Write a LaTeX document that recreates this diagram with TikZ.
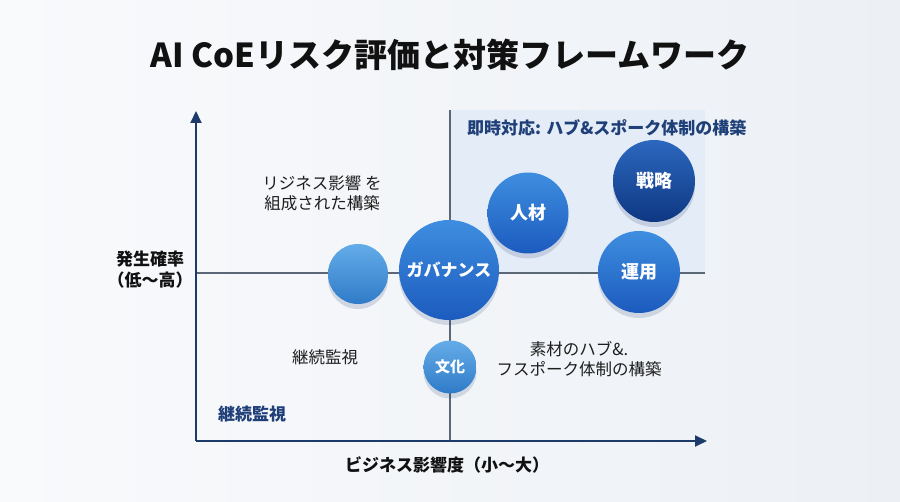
\documentclass[tikz,border=0pt]{standalone}
\usepackage{fontspec}
\setmainfont{Noto Sans CJK JP}
\usetikzlibrary{arrows.meta,shadows}
\definecolor{navy}{HTML}{1C3B6B}
\definecolor{qtext}{HTML}{1F3F78}
\definecolor{divgray}{HTML}{5B6677}
\definecolor{region}{HTML}{E4ECF7}
\definecolor{bgA}{HTML}{F9FAFC}
\definecolor{bgB}{HTML}{ECF0F5}
\definecolor{dA}{HTML}{2C68BE}
\definecolor{dB}{HTML}{0E3782}
\definecolor{mA}{HTML}{3E8EE0}
\definecolor{mB}{HTML}{1C5BBE}
\definecolor{lA}{HTML}{64ACE8}
\definecolor{lB}{HTML}{307BC8}
\definecolor{titlec}{HTML}{111111}
\definecolor{bodyc}{HTML}{1E1E1E}
\tikzset{
  bubble/.style={circle, inner sep=0pt, minimum size=#1, text=white,
    font=\fontsize{18}{20}\selectfont\bfseries, shading angle=45,
    drop shadow={shadow xshift=0pt, shadow yshift=-5pt, opacity=0.16, fill=navy}},
  dark/.style={top color=dA, bottom color=dB},
  mid/.style={top color=mA, bottom color=mB},
  light/.style={top color=lA, bottom color=lB},
  axisline/.style={draw=navy, line width=2pt, -{Triangle[length=12pt,width=11pt]}},
  divline/.style={draw=divgray, line width=1.4pt},
  bodytext/.style={text=bodyc, font=\fontsize{16.5}{20}\selectfont, align=center, inner sep=0pt},
  qlabel/.style={text=qtext, font=\fontsize{17}{20}\selectfont\bfseries, inner sep=0pt},
  axislabel/.style={text=titlec, font=\fontsize{17}{21}\selectfont\bfseries, align=center, inner sep=0pt}
}
\begin{document}
\begin{tikzpicture}[x=1pt,y=-1pt]
\useasboundingbox (0,0) rectangle (900,502);
\shade[left color=bgA, right color=bgB] (0,0) rectangle (900,502);
% title
\node[text=titlec, font=\fontsize{33}{38}\selectfont\bfseries, inner sep=0pt] (title) at (450,55) {AI CoEリスク評価と対策フレームワーク};
% coordinates
\coordinate (origin) at (196,441);
\coordinate (ytop) at (196,111);
\coordinate (xend) at (707,441);
\coordinate (vtop) at (450,110);
\coordinate (vbot) at (450,441);
\coordinate (hleft) at (196,273);
\coordinate (hright) at (705,273);
% shaded quadrant
\fill[region] (vtop) rectangle (hright);
% dividers
\draw[divline] (vtop) -- (vbot);
\draw[divline] (hleft) -- (hright);
% axes
\draw[axisline] (origin) -- (ytop);
\draw[axisline] (origin) -- (xend);
% labels
\node[qlabel, anchor=west] (qtr) at (467,128) {即時対応: ハブ\&スポーク体制の構築};
\node[bodytext] (qtl) at (322,193) {リジネス影響 を\\組成された構築};
\node[bodytext] (qbl) at (325,357) {継続監視};
\node[bodytext] (qbr) at (579,359) {素材のハブ\&.\\フスポーク体制の構築};
\node[qlabel] (qbl2) at (252,414) {継続監視};
\node[axislabel] (ylab) at (150,270) {発生確率\\（低～高）};
\node[axislabel] (xlab) at (447,465) {ビジネス影響度（小～大）};
% bubbles
\node[bubble=82pt, dark] (senryaku) at (654,181) {戦略};
\node[bubble=81pt, mid] (jinzai) at (528,213) {人材};
\node[bubble=82pt, mid] (unyou) at (639,272) {運用};
\node[bubble=60pt, light] (blank) at (358,274) {};
\node[bubble=100pt, mid, font=\fontsize{17}{20}\selectfont\bfseries] (gov) at (449,270) {ガバナンス};
\node[bubble=53pt, light, font=\fontsize{15}{18}\selectfont\bfseries] (bunka) at (450,367) {文化};
\end{tikzpicture}
\end{document}
